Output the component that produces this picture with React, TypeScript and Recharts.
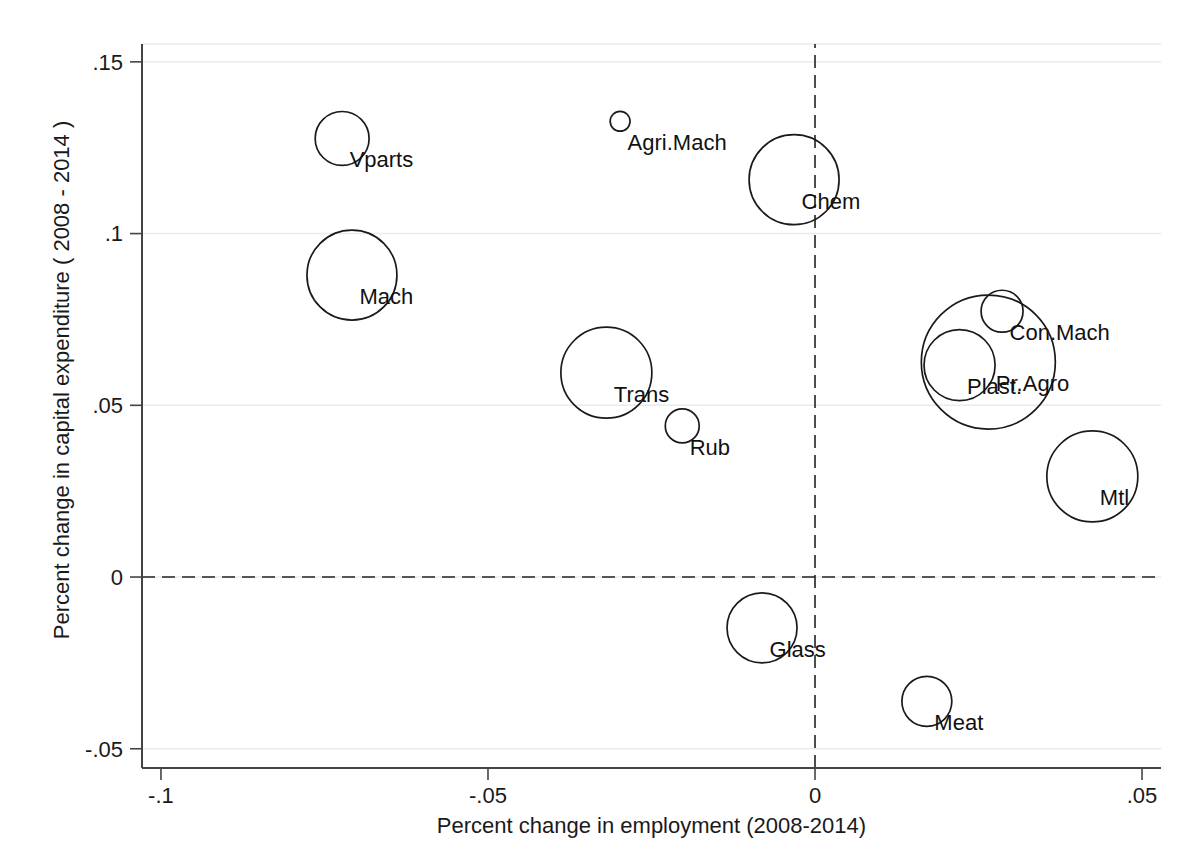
import React from 'react'
import {
  ScatterChart,
  Scatter,
  XAxis,
  YAxis,
  ZAxis,
  CartesianGrid,
  ReferenceLine,
} from 'recharts'

const sectors = [
  'Vparts',
  'Agri.Mach',
  'Chem',
  'Mach',
  'Trans',
  'Rub',
  'Con.Mach',
  'Pr.Agro',
  'Plast.',
  'Mtl',
  'Glass',
  'Meat',
]
// percent change in employment (2008-2014)
const employmentChange = [
  -0.0723, -0.0298, -0.0032, -0.0708, -0.0319, -0.0203, 0.0286, 0.0265, 0.0221,
  0.0424, -0.0081, 0.0171,
]
// percent change in capital expenditure (2008-2014)
const capexChange = [
  0.1277, 0.1327, 0.1157, 0.0879, 0.0595, 0.044, 0.0774, 0.0626, 0.0617, 0.0293,
  -0.0148, -0.0362,
]
// relative bubble weight (largest sector = 100)
const weights = [16.2, 2.2, 45.1, 45.1, 46.1, 6.4, 9.8, 100, 28.1, 46.1, 27.3, 13.9]

const xTicks = [-0.1, -0.05, 0, 0.05]
const yTicks = [-0.05, 0, 0.05, 0.1, 0.15]

const rows = sectors.map((name, i) => ({
  name,
  emp: employmentChange[i],
  capex: capexChange[i],
  weight: weights[i],
}))

const FONT = '"Liberation Sans", Arial, Helvetica, sans-serif'

// stata style: drop the leading zero
const fmt = (v: number) => (v === 0 ? '0' : String(v).replace('0.', '.'))

function Bubble(props: any) {
  const { cx, cy, size, width, payload } = props
  const r = size != null ? Math.sqrt(size / Math.PI) : width / 2
  return (
    <g>
      <circle cx={cx} cy={cy} r={r} fill="none" stroke="#1a1a1a" strokeWidth={1.7} />
      <text x={cx + 7.5} y={cy + 29} fontSize={22} fontFamily={FONT} fill="#111">
        {payload.name}
      </text>
    </g>
  )
}

export default function App() {
  return (
    <div
      style={{
        position: 'absolute',
        left: 0,
        top: 0,
        width: 1177,
        height: 866,
        background: '#fff',
        fontFamily: FONT,
      }}
    >
      <ScatterChart
        width={1177}
        height={866}
        margin={{ top: 44, right: 16, bottom: 38, left: 62 }}
      >
        <CartesianGrid horizontal vertical={false} stroke="#e6ecf2" strokeWidth={1.5} />
        <XAxis
          type="number"
          dataKey="emp"
          domain={[-0.1029, 0.0529]}
          ticks={xTicks}
          tickFormatter={fmt}
          allowDataOverflow
          height={60}
          tickSize={12}
          tickMargin={7}
          axisLine={{ stroke: '#444', strokeWidth: 2 }}
          tickLine={{ stroke: '#444', strokeWidth: 1.6 }}
          tick={{ fill: '#1a1a1a', fontSize: 22, fontFamily: FONT }}
          label={{
            value: 'Percent change in employment (2008-2014)',
            position: 'insideBottom',
            offset: -5,
            fill: '#1a1a1a',
            fontSize: 22,
            fontFamily: FONT,
          }}
        />
        <YAxis
          type="number"
          dataKey="capex"
          domain={[-0.0556, 0.1552]}
          ticks={yTicks}
          tickFormatter={fmt}
          allowDataOverflow
          width={80}
          tickSize={12}
          tickMargin={7}
          axisLine={{ stroke: '#444', strokeWidth: 2 }}
          tickLine={{ stroke: '#444', strokeWidth: 1.6 }}
          tick={{ fill: '#1a1a1a', fontSize: 22, fontFamily: FONT }}
          label={{
            value: 'Percent change in capital expenditure ( 2008 - 2014 )',
            angle: -90,
            position: 'center',
            dx: -41,
            dy: -26,
            fill: '#1a1a1a',
            fontSize: 22,
            fontFamily: FONT,
          }}
        />
        <ZAxis type="number" dataKey="weight" domain={[0, 100]} range={[0, Math.PI * 67 * 67]} />
        <ReferenceLine x={0} stroke="#222" strokeWidth={1.6} strokeDasharray="13 7" />
        <ReferenceLine y={0} stroke="#222" strokeWidth={1.6} strokeDasharray="13 7" />
        <Scatter data={rows} shape={<Bubble />} isAnimationActive={false} />
      </ScatterChart>
    </div>
  )
}
